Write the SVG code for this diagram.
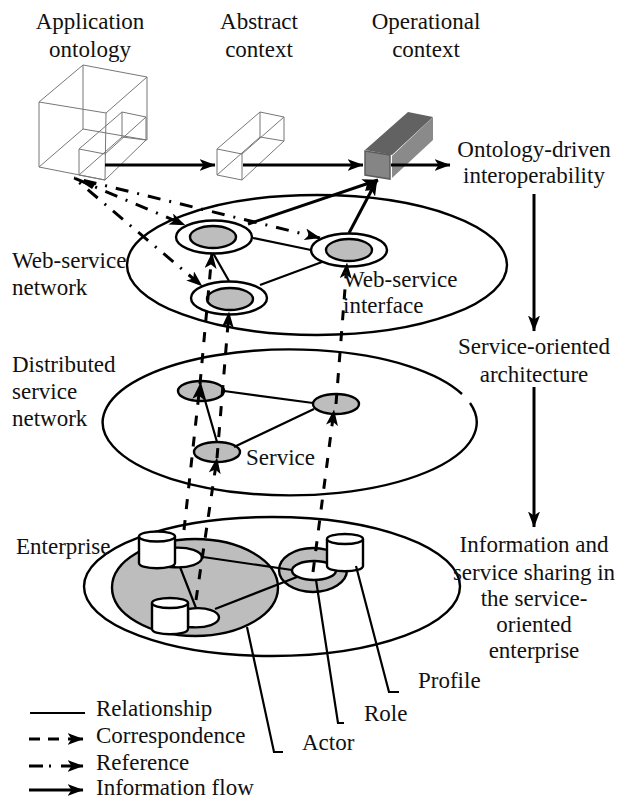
<svg xmlns="http://www.w3.org/2000/svg" width="626" height="801" viewBox="0 0 626 801">
<style>
text{font-family:"Liberation Serif","Times New Roman",serif;font-size:23px;fill:#111}
.m{text-anchor:middle}
.l{fill:none;stroke:#000;stroke-width:2.2}
.e{fill:#fff;stroke:#000;stroke-width:2.4}
.g{fill:#bdbdbd;stroke:#000;stroke-width:2.4}
.w{fill:none;stroke:#777;stroke-width:1}
.f{fill:none;stroke:#000;stroke-width:3;marker-end:url(#a)}
.d{fill:none;stroke:#000;stroke-width:3;stroke-dasharray:10 11;marker-end:url(#a)}
.r{fill:none;stroke:#000;stroke-width:3;stroke-dasharray:13 9 2 9;marker-end:url(#a)}
</style>
<defs><marker id="a" viewBox="0 0 16 12" refX="15.500" refY="6" markerWidth="16" markerHeight="12" markerUnits="userSpaceOnUse" orient="auto"><path d="M0 0L16 6L0 12L4 6Z" fill="#000"/></marker></defs>
<g id="title-labels">
<text class="m" x="90" y="29">Application</text><text class="m" x="90" y="57">ontology</text>
<text class="m" x="259" y="29">Abstract</text><text class="m" x="259" y="57">context</text>
<text class="m" x="426" y="29">Operational</text><text class="m" x="426" y="57">context</text>
</g>
<g id="application-ontology">
<path class="w" d="M39 102L83 65L147 77L106 113ZM39 102V167L105 180L106 113M83 65V129L147 140V77M39 167L83 129M79 149L122 112L146 117V140L105 180L79 175ZM79 149L105 154M79 175L122 137V112M122 137L146 140M105 154L146 117"/>
</g>
<g id="abstract-context">
<path class="w" d="M217 149L260 112L284 117V141L242 180L217 175ZM217 149L242 154V180M217 175L260 137V112M260 137L284 141M242 154L284 117"/>
</g>
<g id="operational-context">
<path d="M365 150L408 112L433 117L392 155Z" fill="#626262"/>
<path d="M392 156L433 117V140L392 178Z" fill="#8a8a8a"/>
<path d="M365 151L390 155V179L365 175Z" fill="#858585" stroke="#5c5c5c" stroke-width="1.500"/>
</g>
<g id="web-service-network">
<ellipse class="e" cx="317" cy="265" rx="190" ry="70"/>
<ellipse class="e" cx="214" cy="237" rx="38" ry="16.500"/><ellipse class="g" cx="213" cy="237" rx="23" ry="11"/>
<ellipse class="e" cx="349" cy="250" rx="38" ry="16.500"/><ellipse class="g" cx="349" cy="250" rx="23" ry="11"/>
<ellipse class="e" cx="229" cy="298" rx="38" ry="16.500"/><ellipse class="g" cx="230" cy="299" rx="23" ry="11"/>
</g>
<g id="distributed-service-network">
<path class="e" d="M470 403A187 73 0 1 1 462 394"/>
<ellipse class="g" cx="201" cy="391" rx="23" ry="10"/>
<ellipse class="g" cx="336" cy="404" rx="23" ry="10"/>
<ellipse class="g" cx="217" cy="452" rx="23" ry="10"/>
</g>
<g id="enterprise">
<ellipse class="e" cx="272" cy="586.500" rx="188" ry="69.500"/>
<ellipse class="g" cx="195" cy="587.500" rx="83" ry="48.500"/>
<ellipse class="g" cx="313" cy="570" rx="34" ry="22"/>
<ellipse class="e" cx="314" cy="570.500" rx="22" ry="9.500"/>
<path class="e" d="M170 548C190 546 202 552 202 557.500C202 563 190 569 170 567Z"/>
<path class="e" d="M188 609C208 606 219 612 219 617.500C219 623 208 629 188 627Z"/>
<path class="e" d="M139 536.500V563C139 570 175 570 175 563V536.500"/><ellipse class="e" cx="157" cy="536.500" rx="18" ry="5"/>
<path class="e" d="M152 603V629C152 636 188 636 188 629V603"/><ellipse class="e" cx="170" cy="603" rx="18" ry="5"/>
<path class="e" d="M327 539V566C327 573 363 573 363 566V539"/><ellipse class="e" cx="345" cy="539" rx="18" ry="5"/>
</g>
<g id="connectors">
<path class="l" d="M253 238L311 250M322 262L260 285M229 281L213 253"/>
<path class="l" d="M224 391L313 403M314 409L234 447M217 442L200 383"/>
<path class="l" d="M203 557L292 570M297 577L215 609M180 567L196 608"/>
<path class="l" d="M247 627L274 752H283M316 580L338 723H344M356 566L389 692H399M30 713H85"/>
<path class="f" d="M105 165H215"/><path class="f" d="M243 165H363"/><path class="f" d="M391 165H450"/>
<path class="f" d="M534 194V331"/><path class="f" d="M534 387V527"/>
<path class="f" d="M248 224L378 180"/><path class="f" d="M349 233L377 180"/>
<path class="r" d="M74 178L185 225" stroke-dashoffset="-1"/><path class="r" d="M74 178L320 238" stroke-dashoffset="-10"/><path class="r" d="M74 178L202 286" stroke-dashoffset="15"/>
<path d="M96 183L80 181L92 189Z" fill="#000"/>
<path class="d" d="M184 530L200 384"/><path class="d" d="M196 600L217 458"/><path class="d" d="M313 572L334 410"/>
<path class="d" d="M200 384L212 253"/><path class="d" d="M217 458L229 312"/><path class="d" d="M336 404L347 263"/>
</g>
<g id="labels">
<text x="12" y="268">Web-service</text><text x="12" y="295">network</text>
<text x="343" y="287">Web-service</text><text x="343" y="313">interface</text>
<text x="12" y="372">Distributed</text><text x="12" y="399">service</text><text x="12" y="426">network</text>
<text x="246" y="465">Service</text><text x="16" y="554">Enterprise</text>
<text class="m" x="534" y="157">Ontology-driven</text><text class="m" x="534" y="183">interoperability</text>
<text class="m" x="534" y="354">Service-oriented</text><text class="m" x="534" y="382">architecture</text>
<text class="m" x="534" y="552">Information and</text><text class="m" x="534" y="580">service sharing in</text><text class="m" x="534" y="606">the service-</text><text class="m" x="534" y="632">oriented</text><text class="m" x="534" y="658">enterprise</text>
<text x="418" y="688">Profile</text><text x="364" y="721">Role</text><text x="302" y="750">Actor</text>
</g>
<g id="legend">
<text x="96" y="716">Relationship</text><text x="96" y="743">Correspondence</text><text x="96" y="770">Reference</text><text x="96" y="795">Information flow</text>
<path class="f" d="M29 739H40M48 739H59M68 739H83"/><path class="f" d="M29 766H43M49 766H51M61 766H83"/><path class="f" d="M29 790H83"/>
</g>
</svg>
